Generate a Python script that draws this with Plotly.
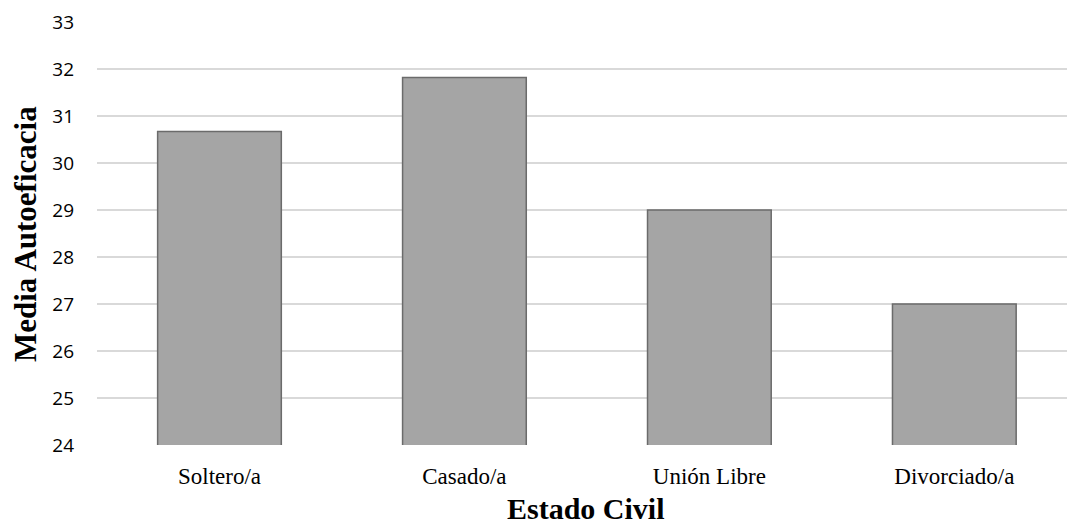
import plotly.graph_objects as go

categories = ["Soltero/a", "Casado/a", "Unión Libre", "Divorciado/a"]
values = [30.67, 31.82, 29.0, 27.0]
y_ticks = [24, 25, 26, 27, 28, 29, 30, 31, 32, 33]

W, H = 1067, 527
L, R, T, B = 97, 0, 22, 82

fig = go.Figure(go.Bar(
    x=categories, y=values, width=0.505,
    marker=dict(color="#a5a5a5", line=dict(color="#6b6b6b", width=1.5)),
))

fig.update_layout(
    width=W, height=H,
    margin=dict(l=L, r=R, t=T, b=B, autoexpand=False),
    plot_bgcolor="white", paper_bgcolor="white",
    showlegend=False,
    xaxis=dict(
        range=[-0.5, 3.46], showgrid=False, zeroline=False, showline=False,
        tickfont=dict(family="Liberation Serif", size=23, color="#000000"),
        ticklabelstandoff=15, fixedrange=True,
    ),
    yaxis=dict(
        range=[24, 33], tickvals=y_ticks, showgrid=True, gridcolor="#d9d9d9", gridwidth=1.5,
        zeroline=False, showline=False,
        tickfont=dict(family="Open Sans", size=19, color="#000000"),
        ticklabelstandoff=22,
    ),
    annotations=[
        dict(text="<b>Estado Civil</b>", xref="paper", yref="paper",
             x=(586 - L) / (W - L - R), y=-(508 - (H - B)) / (H - T - B),
             showarrow=False, xanchor="center", yanchor="middle",
             font=dict(family="Liberation Serif", size=30, color="#000000")),
        dict(text="<b>Media Autoeficacia</b>", xref="paper", yref="paper",
             x=-(L - 25) / (W - L - R), y=((H - B) - 234) / (H - T - B),
             showarrow=False, xanchor="center", yanchor="middle", textangle=-90,
             font=dict(family="Liberation Serif", size=31, color="#000000")),
    ],
)

fig.write_html("out.html")
